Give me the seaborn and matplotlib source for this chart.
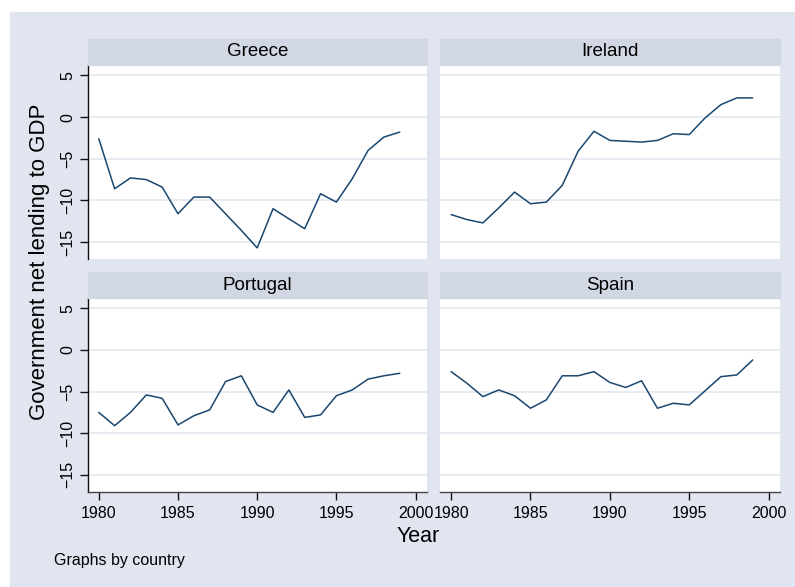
import matplotlib
matplotlib.use("Agg")
import matplotlib.pyplot as plt
import seaborn as sns
import pandas as pd
from matplotlib.patches import Rectangle

# ---- data ----
years = list(range(1980, 2000))
countries = ["Greece", "Ireland", "Portugal", "Spain"]
greece = [-2.6, -8.6, -7.3, -7.5, -8.4, -11.6, -9.6, -9.6, -11.6, -13.6,
          -15.7, -11.0, -12.2, -13.4, -9.2, -10.2, -7.4, -4.0, -2.4, -1.8]
ireland = [-11.7, -12.3, -12.7, -10.9, -9.0, -10.4, -10.2, -8.2, -4.1, -1.7,
           -2.8, -2.9, -3.0, -2.8, -2.0, -2.1, -0.1, 1.5, 2.3, 2.3]
portugal = [-7.5, -9.1, -7.5, -5.4, -5.8, -9.0, -7.9, -7.2, -3.8, -3.1,
            -6.6, -7.5, -4.8, -8.1, -7.8, -5.5, -4.8, -3.5, -3.1, -2.8]
spain = [-2.6, -4.0, -5.6, -4.8, -5.5, -7.0, -6.0, -3.1, -3.1, -2.6,
         -3.9, -4.5, -3.7, -7.0, -6.4, -6.6, -4.9, -3.2, -3.0, -1.2]
y_ticks = [-15, -10, -5, 0, 5]
x_ticks = [1980, 1985, 1990, 1995, 2000]
y_title = "Government net lending to GDP"
x_title = "Year"
note = "Graphs by country"

series = {"Greece": greece, "Ireland": ireland, "Portugal": portugal, "Spain": spain}
df = pd.DataFrame([(c, yr, v) for c in countries for yr, v in zip(years, series[c])],
                  columns=["country", "year", "value"])

sns.set_theme(style="white")
plt.rcParams['font.family'] = ['Liberation Sans', 'DejaVu Sans']

W, H = 795, 587
fig = plt.figure(figsize=(W / 100, H / 100), dpi=100)
fig.patch.set_facecolor("white")

BG = "#E1E5EF"
STRIP = "#D1D8E3"
GRID = "#E3E8F0"
LINE = "#1A476F"

fig.add_artist(Rectangle((10 / W, 0), 1 - 10 / W, 1 - 12 / H,
                         transform=fig.transFigure, color=BG, zorder=-10))

def rect(x0, y0, x1, y1):
    return [x0 / W, 1 - y1 / H, (x1 - x0) / W, (y1 - y0) / H]

cols = [(87.7, 427.0), (440.0, 780.0)]
rows = [(65.0, 259.0), (298.0, 491.7)]
strip_h = 26.0

for i, c in enumerate(countries):
    r, k = divmod(i, 2)
    x0, x1 = cols[k]
    y0, y1 = rows[r]
    ax = fig.add_axes(rect(x0, y0, x1, y1))
    ax.set_facecolor("white")
    sns.lineplot(data=df[df.country == c], x="year", y="value", ax=ax,
                 color=LINE, linewidth=1.1)
    ax.set_xlim(1979.3, 2000.72)
    ax.set_ylim(-17.03, 6.25)
    ax.set_yticks(y_ticks)
    ax.set_xticks(x_ticks)
    ax.yaxis.grid(True, color=GRID, linewidth=1.2)
    ax.xaxis.grid(False)
    ax.set_axisbelow(True)
    ax.set_xlabel("")
    ax.set_ylabel("")
    for s in ["top", "right"]:
        ax.spines[s].set_visible(False)
    ax.spines["left"].set_visible(k == 0)
    ax.spines["bottom"].set_visible(r == 1)
    ax.spines["left"].set_color("#111111")
    ax.spines["left"].set_linewidth(1.0)
    ax.spines["bottom"].set_color("#444444")
    ax.spines["bottom"].set_linewidth(1.0)
    if k == 0:
        ax.tick_params(axis="y", left=True, length=6, width=1, color="#111111",
                       labelsize=11.5, pad=3, labelcolor="black")
        for lab in ax.get_yticklabels():
            lab.set_rotation(90)
            lab.set_va("center")
    else:
        ax.tick_params(axis="y", left=False, labelleft=False)
    if r == 1:
        ax.tick_params(axis="x", bottom=True, length=6, width=1, color="#111111",
                       labelsize=11.5, pad=4, labelcolor="black")
    else:
        ax.tick_params(axis="x", bottom=False, labelbottom=False)
    # strip
    fig.add_artist(Rectangle((x0 / W, 1 - y0 / H), (x1 - x0) / W, strip_h / H,
                             transform=fig.transFigure, color=STRIP, zorder=5))
    fig.text((x0 + x1) / 2 / W, 1 - (y0 - strip_h / 2) / H, c, ha="center",
             va="center", fontsize=13.5, color="black", zorder=6)

fig.text(40 / W, 1 - 262 / H, y_title, rotation=90, ha="center", va="center",
         fontsize=16, color="black")
fig.text(418 / W, 1 - 537 / H, x_title, ha="center", va="center",
         fontsize=15.5, color="black")
fig.text(54 / W, 1 - 561 / H, note, ha="left", va="center",
         fontsize=11.5, color="black")

fig.savefig("out.png", dpi=100, facecolor=fig.get_facecolor())
